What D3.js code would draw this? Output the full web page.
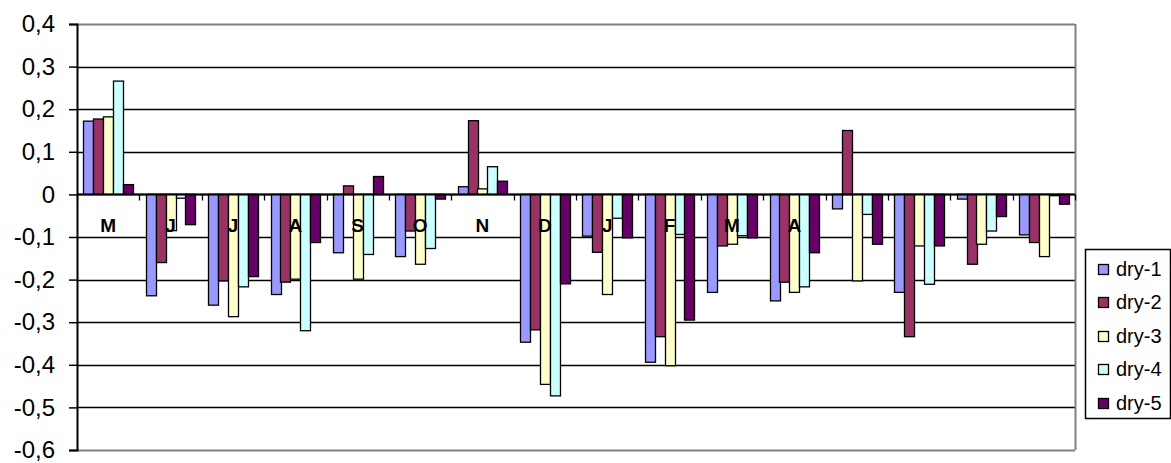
<!DOCTYPE html>
<html><head><meta charset="utf-8">
<script src="https://cdn.jsdelivr.net/npm/d3@7"></script>
<style>body{margin:0;background:#fff;}svg{display:block;font-family:Arial,"Liberation Sans",sans-serif;}</style>
</head><body><svg id="c" width="1171" height="463"></svg>
<script>
const categories = ["M","J","J","A","S","O","N","D","J","F","M","A","","","",""];
const seriesNames = ["dry-1","dry-2","dry-3","dry-4","dry-5"];
const dry1 = [0.172,-0.238,-0.260,-0.235,-0.137,-0.146,0.018,-0.347,-0.098,-0.394,-0.230,-0.250,-0.034,-0.230,-0.011,-0.095];
const dry2 = [0.177,-0.160,-0.203,-0.206,0.020,-0.086,0.173,-0.318,-0.136,-0.334,-0.121,-0.206,0.150,-0.334,-0.164,-0.113];
const dry3 = [0.182,-0.085,-0.287,-0.199,-0.199,-0.164,0.013,-0.446,-0.235,-0.402,-0.117,-0.230,-0.203,-0.121,-0.117,-0.146];
const dry4 = [0.266,-0.009,-0.217,-0.320,-0.141,-0.127,0.065,-0.473,-0.056,-0.094,-0.097,-0.217,-0.047,-0.211,-0.086,-0.003];
const dry5 = [0.023,-0.071,-0.193,-0.113,0.042,-0.011,0.031,-0.210,-0.102,-0.295,-0.102,-0.137,-0.117,-0.121,-0.052,-0.023];
const yTicks = [0.4,0.3,0.2,0.1,0,-0.1,-0.2,-0.3,-0.4,-0.5,-0.6];
const colors = ["#9999FF","#993366","#FFFFCC","#CCFFFF","#660066"];
const series = [dry1,dry2,dry3,dry4,dry5];

const svg = d3.select("#c");
const L=77, R=1075, T=24, B=450;
const y = d3.scaleLinear().domain([-0.6,0.4]).range([B,T]);
const x0 = d3.scaleBand().domain(d3.range(categories.length)).range([L,R]).padding(0);
const bw = x0.bandwidth();
const w = bw/6.3, gap = 0.65*w;
const x1 = d3.scaleBand().domain(d3.range(seriesNames.length)).range([gap, bw-gap]).padding(0);

// gridlines
const g = svg.append("g");
yTicks.forEach(t=>{
  const yy = Math.round(y(t))+0.5;
  const grey = (t===0.4||t===-0.6);
  g.append("line").attr("x1",L).attr("x2",R).attr("y1",yy).attr("y2",yy)
   .attr("stroke",grey?"#808080":"#000").attr("stroke-width",grey?2:1.3);
});
// right border
g.append("line").attr("x1",R+0.5).attr("x2",R+0.5).attr("y1",T).attr("y2",B).attr("stroke","#808080").attr("stroke-width",2);

// bars
series.forEach((s,si)=>{
  svg.append("g").selectAll("rect").data(s).join("rect")
    .attr("x",(d,i)=>Math.round(x0(i)+x1(si))+0.5)
    .attr("width",Math.round(x1.bandwidth()))
    .attr("y",d=>y(Math.max(0,d)))
    .attr("height",d=>Math.abs(y(d)-y(0)))
    .attr("fill",colors[si]).attr("stroke","#000").attr("stroke-width",1.3);
});

// y axis
const yAxis = d3.axisLeft(y).tickValues(yTicks).tickSize(8).tickPadding(14)
  .tickFormat(d=>d3.format(".1f")(d).replace(".",",").replace("−","-").replace("0,0","0"));
const ya = svg.append("g").attr("transform",`translate(${L},0)`).call(yAxis);
ya.select(".domain").attr("stroke","#000").attr("stroke-width",2);
ya.selectAll(".tick line").attr("stroke","#000").attr("stroke-width",1.5);
ya.selectAll("text").attr("font-size",24).attr("fill","#000").attr("font-family","Arial,'Liberation Sans',sans-serif");

// x axis at zero
const xAxis = d3.axisBottom(x0).tickValues([]).tickSize(0);
const xa = svg.append("g").attr("transform",`translate(0,${Math.round(y(0))+0.5})`);
xa.append("line").attr("x1",L).attr("x2",R).attr("stroke","#000").attr("stroke-width",2);
d3.range(categories.length+1).forEach(i=>{
  const xx = Math.round(L + i*bw)+0.5;
  xa.append("line").attr("x1",xx).attr("x2",xx).attr("y1",0).attr("y2",6).attr("stroke","#000").attr("stroke-width",1.3);
});
xa.selectAll("text.cat").data(categories).join("text").attr("class","cat")
  .attr("x",(d,i)=>x0(i)+bw/2).attr("y",37).attr("text-anchor","middle")
  .attr("font-size",19).attr("font-weight","bold").attr("fill","#000").text(d=>d);

// legend
const lg = svg.append("g");
lg.append("rect").attr("x",1085.5).attr("y",249.5).attr("width",85).attr("height",169)
  .attr("fill","#fff").attr("stroke","#000").attr("stroke-width",1.5);
seriesNames.forEach((n,i)=>{
  const cy = 268.5 + i*33.6;
  lg.append("rect").attr("x",1098.5).attr("y",Math.round(cy-5)+0.5).attr("width",10).attr("height",10)
    .attr("fill",colors[i]).attr("stroke","#000").attr("stroke-width",1.3);
  lg.append("text").attr("x",1116).attr("y",cy).attr("dy","0.35em").attr("font-size",20).attr("fill","#000").text(n);
});
</script></body></html>
